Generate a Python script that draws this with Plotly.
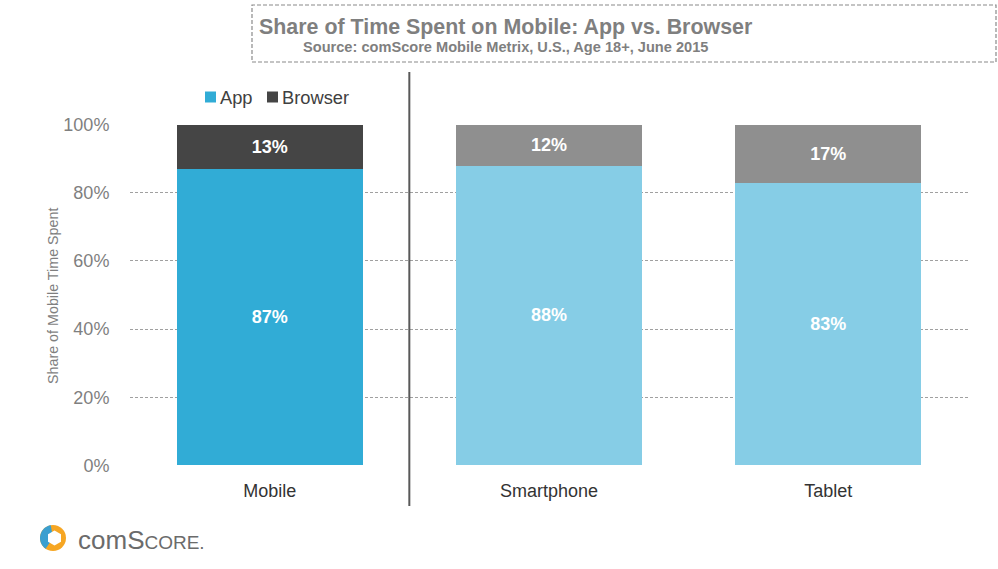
import plotly.graph_objects as go
import math

categories = ["Mobile", "Smartphone", "Tablet"]
app_share = [87, 88, 83]
browser_share = [13, 12, 17]
app_colors = ["#31ACD6", "#86CDE6", "#86CDE6"]
browser_colors = ["#454545", "#8F8F8F", "#8F8F8F"]
y_ticks = [0, 20, 40, 60, 80, 100]
y_tick_labels = [f"{v}%" for v in y_ticks]

W, H = 998, 569
PL, PR, PT, PB = 130, 968, 124, 466  # plot area in screen pixels
L, R, T, B = PL, W - PR, PT, H - PB

def px(x):
    return (x - PL) / (PR - PL)

def py(y):
    return (PB - y) / (PB - PT)

FONT = "Liberation Sans, Arial, sans-serif"

fig = go.Figure()
fig.add_trace(go.Bar(
    x=categories, y=app_share, name="App",
    marker=dict(color=app_colors, line=dict(width=0)),
    text=[f"{v}%" for v in app_share], texttemplate="<b>%{text}</b>",
    textposition="inside", insidetextanchor="middle",
    textfont=dict(color="white", size=18, family=FONT), hoverinfo="skip",
))
fig.add_trace(go.Bar(
    x=categories, y=browser_share, name="Browser",
    marker=dict(color=browser_colors, line=dict(width=0)),
    text=[f"{v}%" for v in browser_share], texttemplate="<b>%{text}</b>",
    textposition="inside", insidetextanchor="middle",
    textfont=dict(color="white", size=18, family=FONT), hoverinfo="skip",
))

shapes = []
# title dashed box
shapes.append(dict(type="rect", xref="paper", yref="paper",
                   x0=px(252), x1=px(996), y0=py(62), y1=py(5),
                   line=dict(color="#8a8a8a", width=1.2, dash="4px,2px"), layer="above"))
# divider line
shapes.append(dict(type="line", xref="x", yref="paper", x0=0.5, x1=0.5,
                   y0=py(506), y1=py(72), line=dict(color="#595959", width=2)))

# manual legend squares
shapes.append(dict(type="rect", xref="paper", yref="paper",
                   x0=px(205), x1=px(216), y0=py(102.5), y1=py(91.5),
                   fillcolor=app_colors[0], line=dict(width=0)))
shapes.append(dict(type="rect", xref="paper", yref="paper",
                   x0=px(267), x1=px(278), y0=py(102.5), y1=py(91.5),
                   fillcolor=browser_colors[0], line=dict(width=0)))

# logo icon
cx, cy, r_out = 53, 538, 13
shapes.append(dict(type="circle", xref="paper", yref="paper",
                   x0=px(cx - r_out), x1=px(cx + r_out), y0=py(cy + r_out), y1=py(cy - r_out),
                   fillcolor="#F6A623", line=dict(width=0)))
pts = []
for i in range(0, 41):
    a = math.radians(100 + i * (135 / 40))
    pts.append((cx + r_out * math.cos(a), cy - r_out * math.sin(a)))
path = "M %f,%f " % (px(cx), py(cy)) + " ".join("L %f,%f" % (px(x), py(y)) for x, y in pts) + " Z"
shapes.append(dict(type="path", xref="paper", yref="paper", path=path,
                   fillcolor="#3A9FD0", line=dict(width=0)))
hex_pts = []
for i in range(6):
    a = math.radians(90 + i * 60)
    hex_pts.append((cx + 1.5 + 7.5 * math.cos(a), cy - 7.5 * math.sin(a)))
hpath = "M " + " L ".join("%f,%f" % (px(x), py(y)) for x, y in hex_pts) + " Z"
shapes.append(dict(type="path", xref="paper", yref="paper", path=hpath,
                   fillcolor="white", line=dict(width=0)))

annotations = [
    dict(text="<b>Share of Time Spent on Mobile: App vs. Browser</b>", xref="paper", yref="paper",
         x=px(505), y=py(27), showarrow=False, xanchor="center", yanchor="middle",
         font=dict(size=21.4, color="#7f7f7f", family=FONT)),
    dict(text="<b>Source: comScore Mobile Metrix, U.S., Age 18+, June 2015</b>", xref="paper", yref="paper",
         x=px(505), y=py(47), showarrow=False, xanchor="center", yanchor="middle",
         font=dict(size=14.6, color="#7f7f7f", family=FONT)),
    dict(text="Share of Mobile Time Spent", xref="paper", yref="paper",
         x=px(53), y=py(296), showarrow=False, textangle=-90, xanchor="center", yanchor="middle",
         font=dict(size=14.3, color="#7f7f7f", family=FONT)),
    dict(text="App", xref="paper", yref="paper", x=px(218), y=py(97), showarrow=False,
         xanchor="left", yanchor="middle", font=dict(size=18.3, color="#404040", family=FONT)),
    dict(text="Browser", xref="paper", yref="paper", x=px(280), y=py(97), showarrow=False,
         xanchor="left", yanchor="middle", font=dict(size=18.3, color="#404040", family=FONT)),
    dict(text="com<span style='font-size:26px'>S</span><span style='font-size:19px'>CORE.</span>",
         xref="paper", yref="paper", x=px(76), y=py(540), showarrow=False,
         xanchor="left", yanchor="middle",
         font=dict(size=26, color="#6b6b6b", family=FONT)),
]

fig.update_layout(
    width=W, height=H,
    margin=dict(l=L, r=R, t=T, b=B, pad=0),
    paper_bgcolor="white", plot_bgcolor="white",
    barmode="stack", bargap=0.333,
    font=dict(family=FONT),
    showlegend=False,
    xaxis=dict(showgrid=False, showline=False, ticks="outside", ticklen=8, tickcolor="white",
               tickfont=dict(size=18, color="#333333", family=FONT)),
    yaxis=dict(range=[-0.2, 100.2], tickvals=y_ticks, ticktext=y_tick_labels, showgrid=True,
               gridcolor="#a0a0a0", griddash="3px,2px", gridwidth=1, zeroline=False, showline=False,
               ticks="outside", ticklen=16, tickcolor="rgba(0,0,0,0)",
               tickfont=dict(size=18, color="#7f7f7f", family=FONT)),
    shapes=shapes, annotations=annotations,
)

fig.write_html(
    "out.html",
    config={"displayModeBar": False},
    post_script="document.body.style.margin='0';document.body.style.overflow='hidden';",
)
